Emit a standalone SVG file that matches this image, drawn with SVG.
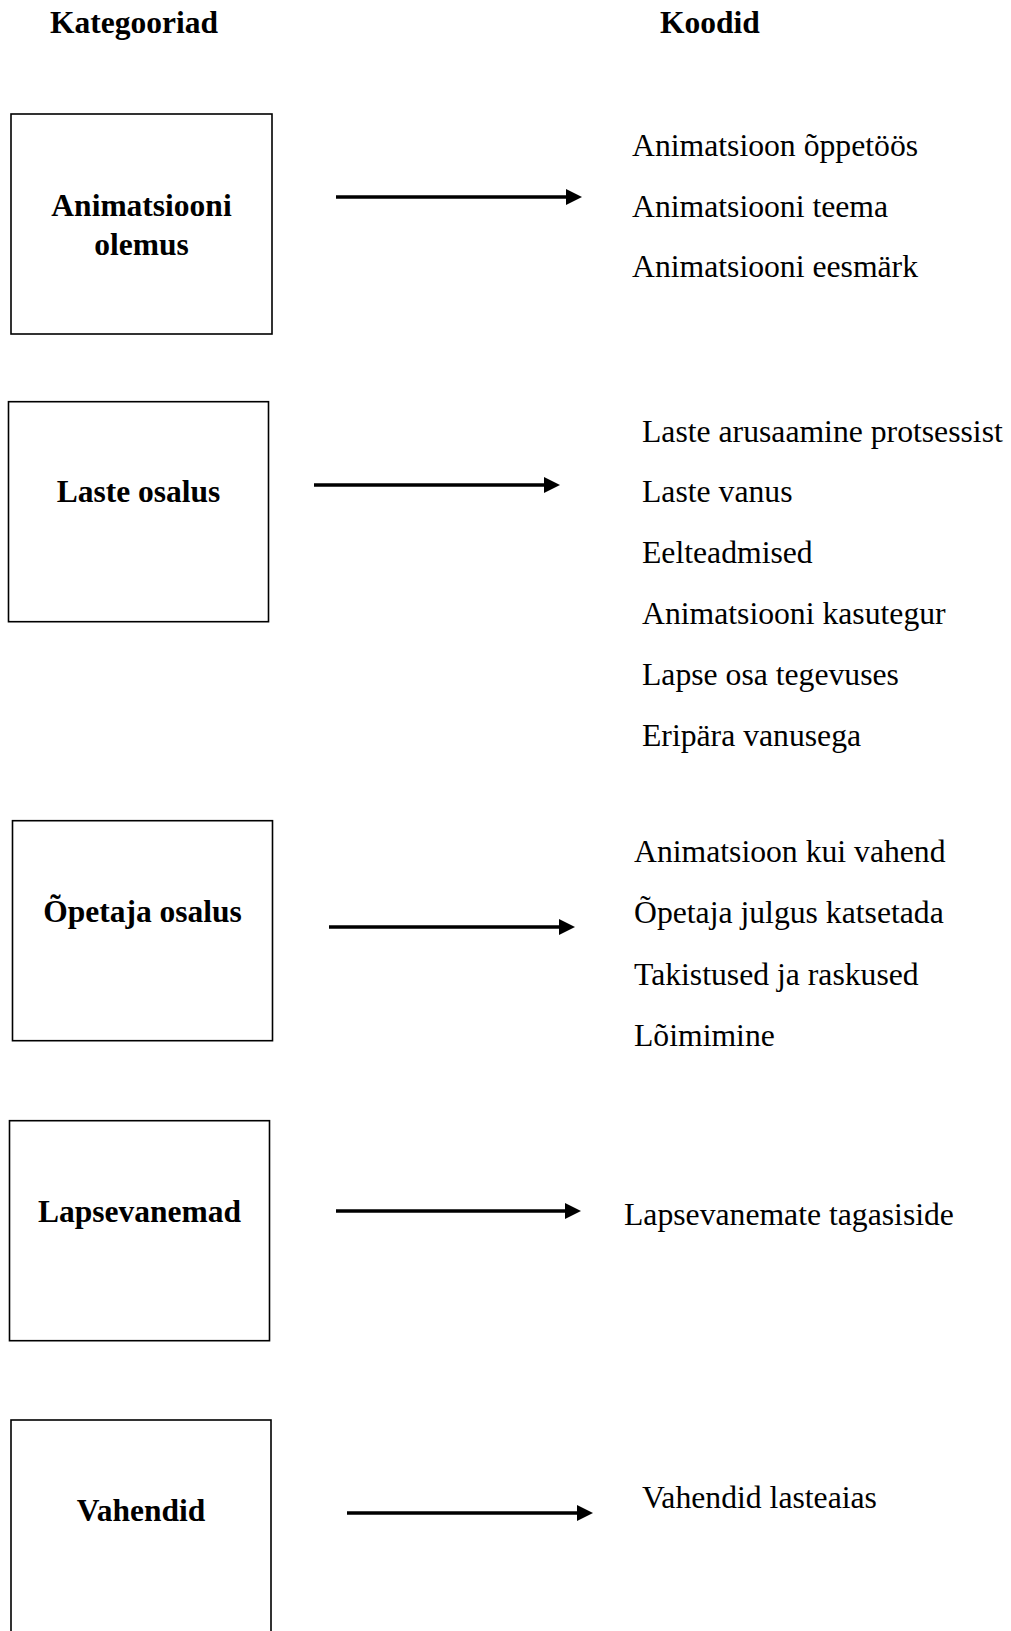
<svg xmlns="http://www.w3.org/2000/svg" width="1011" height="1631" viewBox="0 0 1011 1631">
<style>
.box{fill:#fff;stroke:#000;stroke-width:1.6}
.b{font-family:"Liberation Serif","Times New Roman",serif;font-weight:bold;font-size:31.5px;fill:#000}
.r{font-family:"Liberation Serif","Times New Roman",serif;font-size:31.7px;fill:#000}
.arr{stroke:#000;stroke-width:3.6;fill:none}
</style>
<defs>
<marker id="ah" markerUnits="userSpaceOnUse" markerWidth="17" markerHeight="16" refX="0" refY="8" orient="auto">
<path d="M0,0 L16,8 L0,16 z" fill="#000"/>
</marker>
</defs>
<rect width="1011" height="1631" fill="#fff"/>
<g id="headers">
<text class="b" x="50" y="33">Kategooriad</text>
<text class="b" x="660" y="33">Koodid</text>
</g>
<g id="node-animatsiooni-olemus">
<rect class="box" x="11" y="114" width="261" height="220"/>
<text class="b" x="141.5" y="216" text-anchor="middle">Animatsiooni</text>
<text class="b" x="141.5" y="255" text-anchor="middle">olemus</text>
</g>
<g id="node-laste-osalus">
<rect class="box" x="8.5" y="401.7" width="260" height="220"/>
<text class="b" x="138.5" y="502" text-anchor="middle">Laste osalus</text>
</g>
<g id="node-opetaja-osalus">
<rect class="box" x="12.5" y="820.7" width="260" height="220"/>
<text class="b" x="142.5" y="922" text-anchor="middle">Õpetaja osalus</text>
</g>
<g id="node-lapsevanemad">
<rect class="box" x="9.5" y="1120.7" width="260" height="220"/>
<text class="b" x="139.5" y="1222" text-anchor="middle">Lapsevanemad</text>
</g>
<g id="node-vahendid">
<rect class="box" x="11" y="1420" width="260" height="220"/>
<text class="b" x="141" y="1521" text-anchor="middle">Vahendid</text>
</g>
<g id="codes-1">
<text class="r" x="632" y="156">Animatsioon õppetöös</text>
<text class="r" x="632" y="216.5">Animatsiooni teema</text>
<text class="r" x="632" y="277">Animatsiooni eesmärk</text>
</g>
<g id="codes-2">
<text class="r" x="642" y="441.7">Laste arusaamine protsessist</text>
<text class="r" x="642" y="502">Laste vanus</text>
<text class="r" x="642" y="563">Eelteadmised</text>
<text class="r" x="642" y="624">Animatsiooni kasutegur</text>
<text class="r" x="642" y="685">Lapse osa tegevuses</text>
<text class="r" x="642" y="745.5">Eripära vanusega</text>
</g>
<g id="codes-3">
<text class="r" x="634" y="861.7">Animatsioon kui vahend</text>
<text class="r" x="634" y="923.3">Õpetaja julgus katsetada</text>
<text class="r" x="634" y="985">Takistused ja raskused</text>
<text class="r" x="634" y="1046">Lõimimine</text>
</g>
<g id="codes-4">
<text class="r" x="624" y="1225">Lapsevanemate tagasiside</text>
</g>
<g id="codes-5">
<text class="r" x="642" y="1508.3">Vahendid lasteaias</text>
</g>
<g id="connectors">
<line class="arr" x1="336" y1="197" x2="566" y2="197" marker-end="url(#ah)"/>
<line class="arr" x1="314" y1="485" x2="544" y2="485" marker-end="url(#ah)"/>
<line class="arr" x1="329" y1="927" x2="559" y2="927" marker-end="url(#ah)"/>
<line class="arr" x1="336" y1="1211" x2="565" y2="1211" marker-end="url(#ah)"/>
<line class="arr" x1="347" y1="1513" x2="577" y2="1513" marker-end="url(#ah)"/>
</g>
</svg>
